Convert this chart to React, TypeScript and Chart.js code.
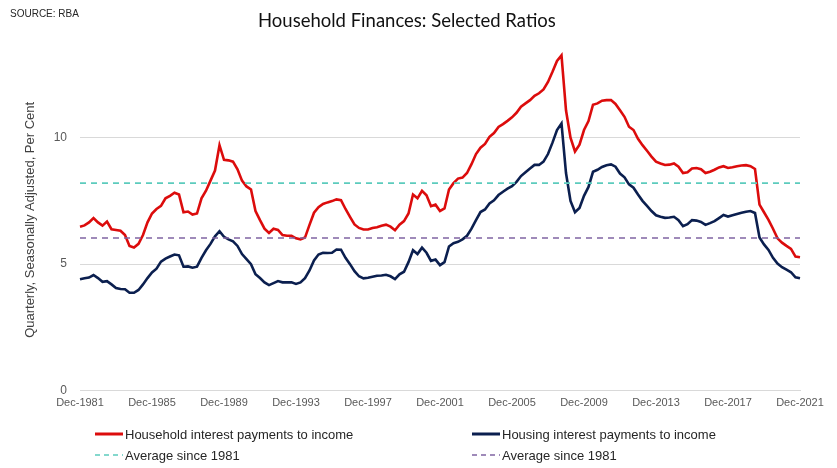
import { useEffect, useRef } from 'react';
import { Chart, registerables } from 'chart.js';

Chart.register(...registerables);

// Quarterly categories, Dec-1981 .. Dec-2021
const months = ['Dec', 'Mar', 'Jun', 'Sep'];
const quarterLabels: string[] = [];
for (let i = 0; i <= 160; i++) {
  const m = months[i % 4];
  const yr = 1981 + Math.ceil(i / 4);
  quarterLabels.push(`${m}-${yr}`);
}

const householdInterest = [
  6.48, 6.53, 6.65, 6.82, 6.65, 6.52, 6.68, 6.38, 6.35, 6.32,
  6.15, 5.72, 5.66, 5.8, 6.15, 6.65, 7.0, 7.18, 7.3, 7.6,
  7.7, 7.82, 7.75, 7.05, 7.08, 6.96, 7.0, 7.6, 7.9, 8.3,
  8.7, 9.7, 9.12, 9.1, 9.05, 8.75, 8.3, 8.07, 7.95, 7.1,
  6.74, 6.4, 6.23, 6.4, 6.35, 6.15, 6.12, 6.12, 6.02, 5.98,
  6.05, 6.55, 7.03, 7.25, 7.38, 7.44, 7.49, 7.56, 7.53, 7.18,
  6.87, 6.57, 6.43, 6.37, 6.37, 6.43, 6.46, 6.52, 6.56, 6.48,
  6.34, 6.56, 6.7, 7.0, 7.75, 7.6, 7.9, 7.72, 7.29, 7.35,
  7.1, 7.2, 7.95, 8.2, 8.38, 8.42, 8.6, 8.95, 9.35, 9.6,
  9.75, 10.03, 10.18, 10.42, 10.53, 10.66, 10.8, 10.98, 11.22, 11.35,
  11.48, 11.65, 11.75, 11.9, 12.2, 12.6, 13.03, 13.25, 11.08, 10.0,
  9.45, 9.72, 10.3, 10.65, 11.3, 11.35, 11.46, 11.48, 11.48, 11.33,
  11.08, 10.82, 10.43, 10.3, 9.95, 9.7, 9.48, 9.25, 9.05, 8.98,
  8.92, 8.93, 8.98, 8.85, 8.6, 8.63, 8.78, 8.8, 8.75, 8.6,
  8.65, 8.73, 8.82, 8.87, 8.8, 8.83, 8.87, 8.9, 8.91, 8.87,
  8.76, 7.35, 7.05, 6.75, 6.4, 6.02, 5.85, 5.72, 5.6, 5.3,
  5.27,
];

const housingInterest = [
  4.4, 4.44, 4.47, 4.57, 4.45, 4.3, 4.33, 4.2, 4.06, 4.02,
  4.01, 3.87, 3.87, 3.98, 4.2, 4.45, 4.67, 4.82, 5.1, 5.22,
  5.3, 5.38, 5.35, 4.9, 4.91, 4.86, 4.9, 5.25, 5.55, 5.8,
  6.1, 6.3, 6.08, 5.98, 5.9, 5.72, 5.4, 5.2, 5.0, 4.6,
  4.45, 4.28, 4.17, 4.25, 4.33, 4.28, 4.28, 4.28, 4.22, 4.28,
  4.45, 4.75, 5.15, 5.38, 5.45, 5.44, 5.45, 5.58, 5.57, 5.25,
  5.0, 4.72, 4.52, 4.44, 4.46, 4.5, 4.54, 4.55, 4.58, 4.52,
  4.41, 4.6, 4.7, 5.08, 5.55, 5.4, 5.65, 5.45, 5.13, 5.18,
  4.96, 5.08, 5.7, 5.83, 5.88, 5.98, 6.12, 6.4, 6.74, 7.06,
  7.16, 7.4, 7.52, 7.73, 7.86, 7.98, 8.08, 8.25, 8.48, 8.63,
  8.78, 8.92, 8.92, 9.05, 9.35, 9.8, 10.3, 10.56, 8.6, 7.5,
  7.05, 7.22, 7.7, 8.05, 8.65, 8.73, 8.84, 8.91, 8.94, 8.85,
  8.58, 8.43, 8.15, 8.02, 7.75, 7.5, 7.3, 7.1, 6.93, 6.87,
  6.83, 6.84, 6.87, 6.74, 6.5, 6.58, 6.74, 6.72, 6.67, 6.55,
  6.62, 6.7, 6.82, 6.94, 6.88, 6.93, 6.98, 7.03, 7.07, 7.1,
  7.02, 6.05, 5.78, 5.56, 5.25, 5.02, 4.88, 4.78, 4.68, 4.48,
  4.44,
];

const householdAverage = 8.2;
const housingAverage = 6.03;

const RED = '#dc0c0c';
const NAVY = '#0b1f4f';
const TEAL = '#5ccbbd';
const PURPLE = '#8064a2';

const legendItems = [
  { label: 'Household interest payments to income', color: RED, dashed: false },
  { label: 'Housing interest payments to income', color: NAVY, dashed: false },
  { label: 'Average since 1981', color: TEAL, dashed: true },
  { label: 'Average since 1981', color: PURPLE, dashed: true },
];

export default function App() {
  const ref = useRef<HTMLCanvasElement>(null);

  useEffect(() => {
    document.body.style.margin = '0';
    const chart = new Chart(ref.current as HTMLCanvasElement, {
      type: 'line',
      data: {
        labels: quarterLabels,
        datasets: [
          {
            label: 'Household interest payments to income',
            data: householdInterest,
            borderColor: RED,
            borderWidth: 2.6,
            pointRadius: 0,
            tension: 0,
            order: 2,
          },
          {
            label: 'Housing interest payments to income',
            data: housingInterest,
            borderColor: NAVY,
            borderWidth: 2.6,
            pointRadius: 0,
            tension: 0,
            order: 3,
          },
          {
            label: 'Average since 1981',
            data: quarterLabels.map(() => householdAverage),
            borderColor: TEAL,
            borderWidth: 1.6,
            borderDash: [6, 5],
            pointRadius: 0,
            order: 1,
          },
          {
            label: 'Average since 1981',
            data: quarterLabels.map(() => housingAverage),
            borderColor: PURPLE,
            borderWidth: 1.6,
            borderDash: [6, 5],
            pointRadius: 0,
            order: 1,
          },
        ],
      },
      options: {
        responsive: false,
        animation: false,
        devicePixelRatio: 1,
        layout: { padding: { left: 0, right: 37, top: 49, bottom: 0 } },
        plugins: {
          legend: { display: false },
          title: { display: false },
          tooltip: { enabled: false },
        },
        scales: {
          x: {
            type: 'category',
            offset: false,
            grid: { display: false, drawTicks: false },
            border: { display: true, color: '#d9d9d9' },
            ticks: {
              autoSkip: false,
              maxRotation: 0,
              minRotation: 0,
              padding: 6,
              color: '#595959',
              font: { family: '"Liberation Sans", Arial, sans-serif', size: 11 },
              callback: (_v: any, idx: number) => (idx % 16 === 0 ? quarterLabels[idx] : null),
            },
            afterFit: (s: any) => {
              s.height = 77.3;
            },
          },
          y: {
            min: 0,
            max: 13.5,
            grid: { color: '#d9d9d9', drawTicks: false },
            border: { display: false },
            ticks: {
              stepSize: 5,
              includeBounds: false,
              padding: 13,
              color: '#595959',
              font: { family: '"Liberation Sans", Arial, sans-serif', size: 12 },
            },
            title: {
              display: true,
              text: 'Quarterly, Seasonally Adjusted, Per Cent',
              color: '#404040',
              font: { family: '"Liberation Sans", Arial, sans-serif', size: 13 },
              padding: { top: 23, bottom: 0 },
            },
            afterFit: (s: any) => {
              s.width = 80;
            },
          },
        },
      },
    } as any);
    return () => chart.destroy();
  }, []);

  const legendFont = '"Liberation Sans", Arial, sans-serif';

  return (
    <div style={{ position: 'relative', width: 837, height: 468, background: '#fff', overflow: 'hidden' }}>
      <canvas ref={ref} width={837} height={468} style={{ position: 'absolute', left: 0, top: 0 }} />
      <div
        style={{
          position: 'absolute',
          left: 10,
          top: 8,
          fontFamily: legendFont,
          fontSize: 10,
          color: '#262626',
        }}
      >
        SOURCE: RBA
      </div>
      <div
        style={{
          position: 'absolute',
          left: 258,
          top: 9,
          fontFamily: 'Lato, "Open Sans", sans-serif',
          fontSize: 18.5,
          color: '#111',
          whiteSpace: 'nowrap',
        }}
      >
        Household Finances: Selected Ratios
      </div>
      {legendItems.map((it, i) => {
        const col = i % 2;
        const row = Math.floor(i / 2);
        const left = col === 0 ? 95 : 472;
        const top = row === 0 ? 434 : 455;
        return (
          <div
            key={i}
            style={{
              position: 'absolute',
              left,
              top: top - 9,
              height: 18,
              display: 'flex',
              alignItems: 'center',
              fontFamily: legendFont,
              fontSize: 13,
              color: '#262626',
              whiteSpace: 'nowrap',
            }}
          >
            <svg width={29} height={6} style={{ marginRight: 1 }}>
              <line
                x1={0}
                y1={3}
                x2={28}
                y2={3}
                stroke={it.color}
                strokeWidth={it.dashed ? 1.6 : 3}
                strokeDasharray={it.dashed ? '5 4' : undefined}
              />
            </svg>
            {it.label}
          </div>
        );
      })}
    </div>
  );
}
